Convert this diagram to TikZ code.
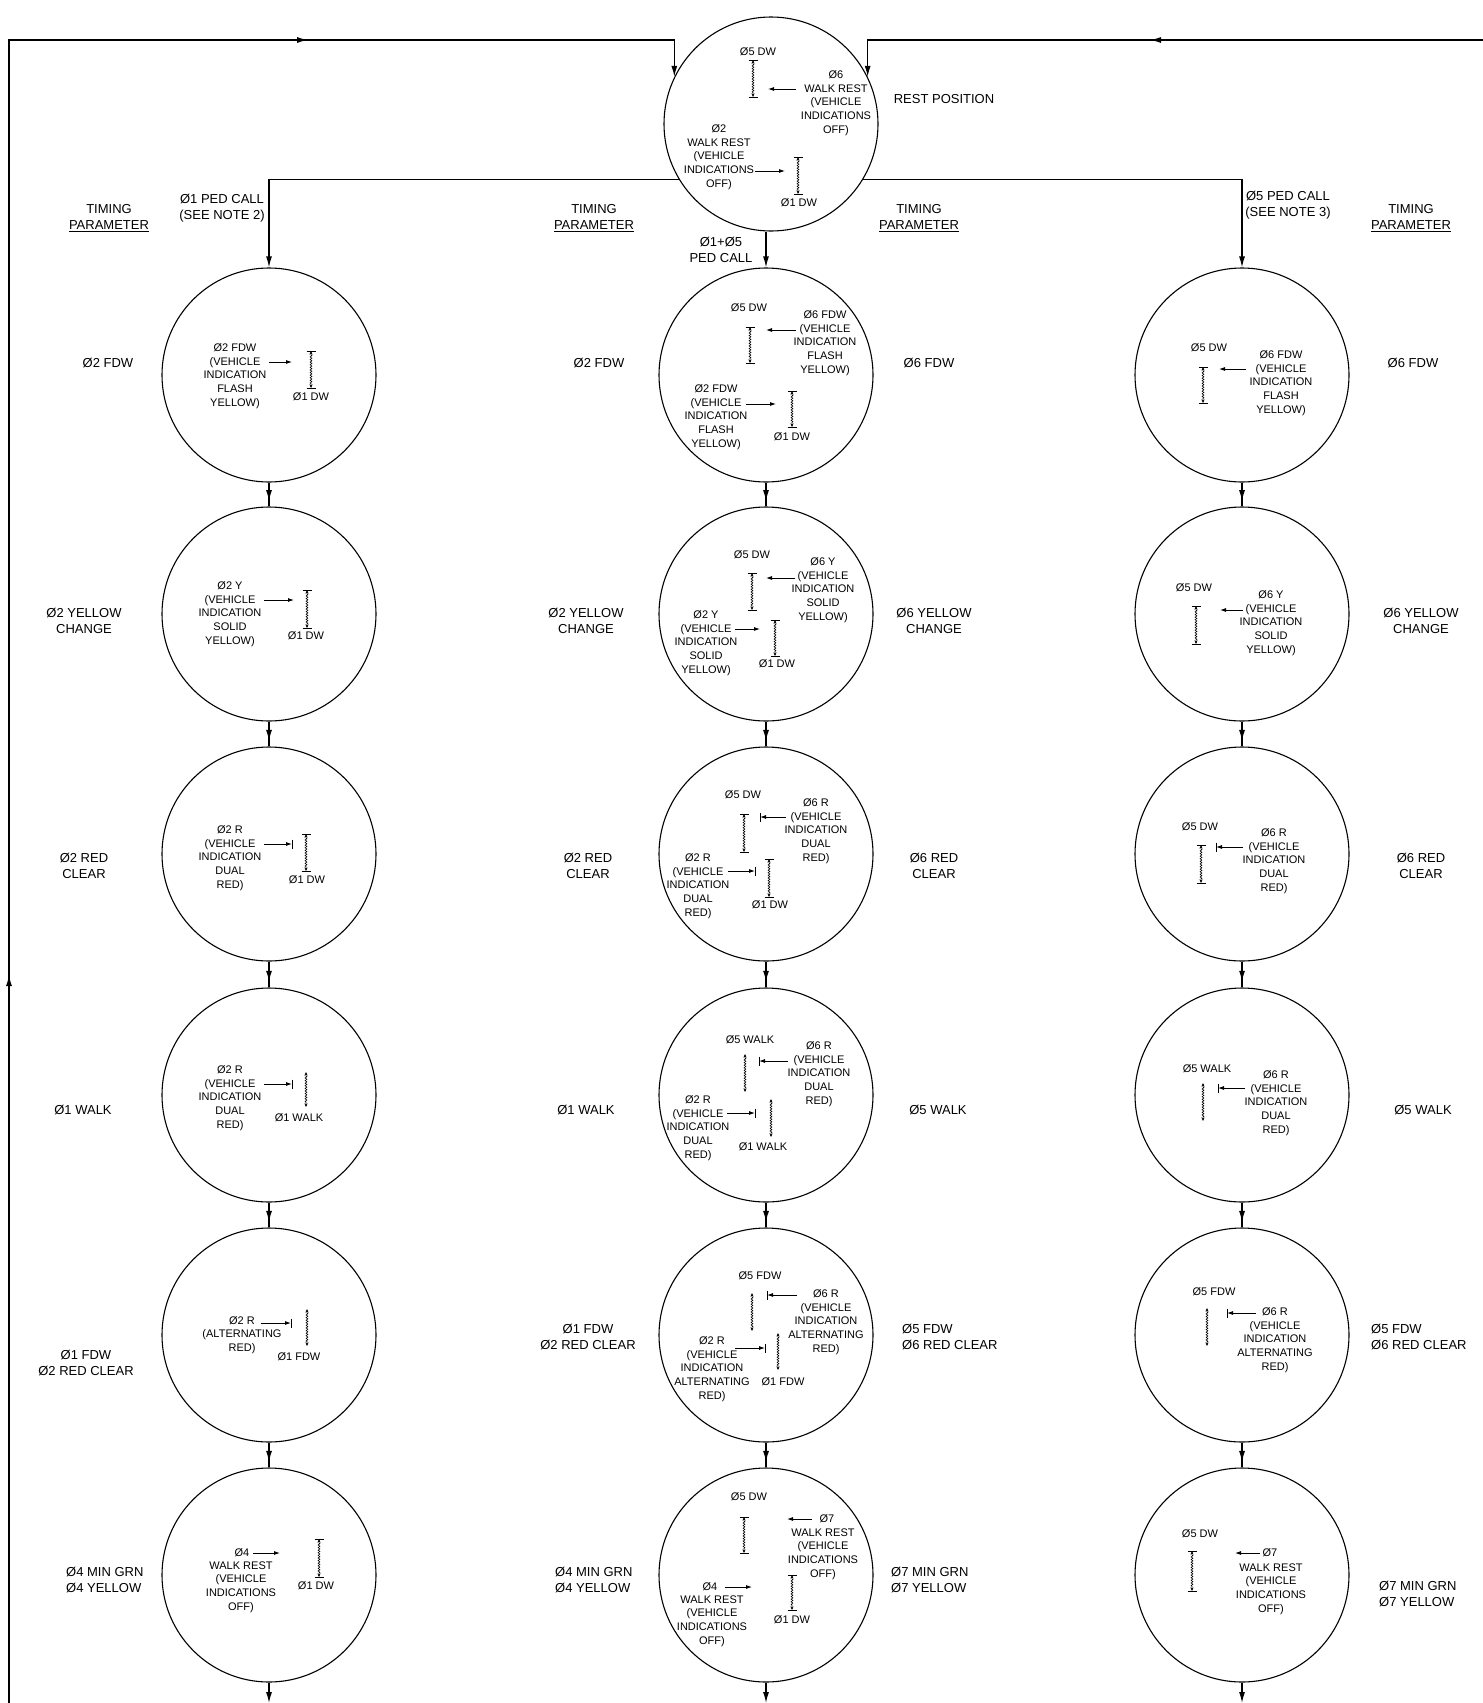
\documentclass[tikz,border=0pt]{standalone}
\usepackage{fontspec}
\setmainfont{Liberation Sans}
\usetikzlibrary{arrows.meta,decorations.markings,decorations.pathmorphing}
\newcommand{\pedDW}[3]{\draw[pedl] (#1,#2) -- (#1,#3); \draw[pbar] ({#1-4.5},#2) -- ({#1+4.5},#2) ({#1-4.5},#3) -- ({#1+4.5},#3);}
\newcommand{\pedWK}[3]{\draw[pedl] (#1,#2) -- (#1,#3);}
\newcommand{\vehA}[3]{\draw[varrow] (#1,#3) -- (#2,#3);}
\newcommand{\vehB}[3]{\draw[varrow] (#1,#3) -- (#2,#3); \draw[pbar] (#2,{#3-4.5}) -- (#2,{#3+4.5});}
\begin{document}
\begin{tikzpicture}[x=1pt,y=-1pt,
  circ/.style={draw,circle,minimum size=214pt,inner sep=0pt,line width=1.1pt},
  itx/.style={font=\fontsize{11}{13.8}\selectfont,align=center,inner sep=0pt},
  lab/.style={font=\fontsize{13}{16}\selectfont,align=center,inner sep=0pt},
  labl/.style={font=\fontsize{13}{16}\selectfont,align=left,anchor=west,inner sep=0pt},
  flow/.style={line width=1.3pt},
  ftip/.style={-{Latex[length=11pt,width=6pt]}},
  midmark/.style={postaction={decorate},decoration={markings,mark=at position #1 with {\arrow{Latex[length=11pt,width=6pt]}}}},
  pedl/.style={line width=0.6pt,{Stealth[length=3.5pt,width=3pt]}-{Stealth[length=3.5pt,width=3pt]},decorate,decoration={zigzag,amplitude=0.9pt,segment length=2.6pt,pre length=4pt,post length=4pt}},
  pbar/.style={line width=0.9pt},
  varrow/.style={line width=0.85pt,-{Latex[length=6pt,width=4pt]}}]
\useasboundingbox (0,0) rectangle (1483,1703);
\fill[white] (0,0) rectangle (1483,1703);

% circles
\node[circ] (T) at (771,124) {};
\node[circ] (L1) at (269,375) {};
\node[circ] (L2) at (269,614) {};
\node[circ] (L3) at (269,854) {};
\node[circ] (L4) at (269,1095) {};
\node[circ] (L5) at (269,1335) {};
\node[circ] (L6) at (269,1575) {};
\node[circ] (M1) at (766,375) {};
\node[circ] (M2) at (766,614) {};
\node[circ] (M3) at (766,854) {};
\node[circ] (M4) at (766,1095) {};
\node[circ] (M5) at (766,1335) {};
\node[circ] (M6) at (766,1575) {};
\node[circ] (R1) at (1242,375) {};
\node[circ] (R2) at (1242,614) {};
\node[circ] (R3) at (1242,854) {};
\node[circ] (R4) at (1242,1095) {};
\node[circ] (R5) at (1242,1335) {};
\node[circ] (R6) at (1242,1575) {};

% flow lines
\coordinate (BL) at (9,1703);
\coordinate (TL) at (9,40);
\coordinate (TR) at (1483,40);
\draw[flow,ftip,postaction={decorate},decoration={markings,
   mark=at position 728pt with {\arrow{Latex[length=11pt,width=6pt]}},
   mark=at position 1962pt with {\arrow{Latex[length=11pt,width=6pt]}}}]
   (BL) -- (TL) -- (T.154 |- TL) -- (T.154);
\draw[flow,ftip,midmark=333pt] (TR) -- (T.26 |- TR) -- (T.26);
\draw[flow,ftip] (T.211) -| (L1.north);
\draw[flow,ftip] (T.-31) -| (R1.north);
\draw[flow,ftip] (M1.north |- T.south) -- (M1.north);
\foreach \c in {L,M,R}{
  \foreach \i/\j in {1/2,2/3,3/4,4/5,5/6}{
    \draw[flow,midmark=0.78] (\c\i.south) -- (\c\j.north);
  }
}
\coordinate (Lb) at (269,1703);
\coordinate (Mb) at (766,1703);
\coordinate (Rb) at (1242,1703);
\draw[flow,ftip] (L6.south) -- (Lb);
\draw[flow,ftip] (M6.south) -- (Mb);
\draw[flow,ftip] (R6.south) -- (Rb);

% outer labels
\node[lab] (rest) at (944,99) {REST POSITION};
\node[lab] (tp1) at (109,218) {TIMING\\\underline{PARAMETER}};
\node[lab] (tp2) at (594,218) {TIMING\\\underline{PARAMETER}};
\node[lab] (tp3) at (919,218) {TIMING\\\underline{PARAMETER}};
\node[lab] (tp4) at (1411,218) {TIMING\\\underline{PARAMETER}};
\node[lab] (pc1) at (222,208) {Ø1 PED CALL\\(SEE NOTE 2)};
\node[lab] (pc5) at (1288,205) {Ø5 PED CALL\\(SEE NOTE 3)};
\node[lab] (pc15) at (721,250) {Ø1+Ø5\\PED CALL};

\node[lab] (l1a) at (108,363) {Ø2 FDW};
\node[lab] (l1b) at (599,363) {Ø2 FDW};
\node[lab] (l1c) at (929,363) {Ø6 FDW};
\node[lab] (l1d) at (1413,363) {Ø6 FDW};
\node[lab] (l2a) at (84,621) {Ø2 YELLOW\\CHANGE};
\node[lab] (l2b) at (586,621) {Ø2 YELLOW\\CHANGE};
\node[lab] (l2c) at (934,621) {Ø6 YELLOW\\CHANGE};
\node[lab] (l2d) at (1421,621) {Ø6 YELLOW\\CHANGE};
\node[lab] (l3a) at (84,866) {Ø2 RED\\CLEAR};
\node[lab] (l3b) at (588,866) {Ø2 RED\\CLEAR};
\node[lab] (l3c) at (934,866) {Ø6 RED\\CLEAR};
\node[lab] (l3d) at (1421,866) {Ø6 RED\\CLEAR};
\node[lab] (l4a) at (83,1110) {Ø1 WALK};
\node[lab] (l4b) at (586,1110) {Ø1 WALK};
\node[lab] (l4c) at (938,1110) {Ø5 WALK};
\node[lab] (l4d) at (1423,1110) {Ø5 WALK};
\node[lab] (l5a) at (86,1363) {Ø1 FDW\\Ø2 RED CLEAR};
\node[lab] (l5b) at (588,1337) {Ø1 FDW\\Ø2 RED CLEAR};
\node[labl] (l5c) at (902,1337) {Ø5 FDW\\Ø6 RED CLEAR};
\node[labl] (l5d) at (1371,1337) {Ø5 FDW\\Ø6 RED CLEAR};
\node[labl] (l6a) at (66,1580) {Ø4 MIN GRN\\Ø4 YELLOW};
\node[labl] (l6b) at (555,1580) {Ø4 MIN GRN\\Ø4 YELLOW};
\node[labl] (l6c) at (891,1580) {Ø7 MIN GRN\\Ø7 YELLOW};
\node[labl] (l6d) at (1379,1594) {Ø7 MIN GRN\\Ø7 YELLOW};

% ---- top circle
\begin{scope}[shift={(771,124)},name prefix=T-]
 \node[itx] (a) at (-13,-72) {Ø5 DW};
 \pedDW{-18}{-64}{-27}
 \vehA{25}{-3}{-35}
 \node[itx] (b) at (65,-21) {Ø6\\WALK REST\\(VEHICLE\\INDICATIONS\\OFF)};
 \node[itx] (c) at (-52,33) {Ø2\\WALK REST\\(VEHICLE\\INDICATIONS\\OFF)};
 \vehA{-16}{14}{47}
 \pedDW{27}{33}{70}
 \node[itx] (d) at (28,79) {Ø1 DW};
\end{scope}

% ---- row 1
\begin{scope}[shift={(269,375)},name prefix=L1-]
 \node[itx] (a) at (-34,1) {Ø2 FDW\\(VEHICLE\\INDICATION\\FLASH\\YELLOW)};
 \vehA{0}{23}{-13}
 \pedDW{42}{-24}{13}
 \node[itx] (b) at (42,22) {Ø1 DW};
\end{scope}
\begin{scope}[shift={(766,375)},name prefix=M1-]
 \node[itx] (a) at (-17,-67) {Ø5 DW};
 \pedDW{-16}{-48}{-12}
 \vehA{30}{0}{-45}
 \node[itx] (b) at (59,-32) {Ø6 FDW\\(VEHICLE\\INDICATION\\FLASH\\YELLOW)};
 \node[itx] (c) at (-50,42) {Ø2 FDW\\(VEHICLE\\INDICATION\\FLASH\\YELLOW)};
 \vehA{-20}{10}{29}
 \pedDW{26}{16}{52}
 \node[itx] (d) at (26,62) {Ø1 DW};
\end{scope}
\begin{scope}[shift={(1242,375)},name prefix=R1-]
 \node[itx] (a) at (-33,-27) {Ø5 DW};
 \pedDW{-39}{-8}{28}
 \vehA{4}{-23}{-6}
 \node[itx] (b) at (39,8) {Ø6 FDW\\(VEHICLE\\INDICATION\\FLASH\\YELLOW)};
\end{scope}

% ---- row 2
\begin{scope}[shift={(269,614)},name prefix=L2-]
 \node[itx] (a) at (-39,0) {Ø2 Y\\(VEHICLE\\INDICATION\\SOLID\\YELLOW)};
 \vehA{-5}{25}{-14}
 \pedDW{38}{-24}{14}
 \node[itx] (b) at (37,22) {Ø1 DW};
\end{scope}
\begin{scope}[shift={(766,614)},name prefix=M2-]
 \node[itx] (a) at (-14,-59) {Ø5 DW};
 \pedDW{-14}{-41}{-4}
 \vehA{29}{0}{-36}
 \node[itx] (b) at (57,-24) {Ø6 Y\\(VEHICLE\\INDICATION\\SOLID\\YELLOW)};
 \node[itx] (c) at (-60,29) {Ø2 Y\\(VEHICLE\\INDICATION\\SOLID\\YELLOW)};
 \vehA{-31}{-6}{15}
 \pedDW{9}{6}{42}
 \node[itx] (d) at (11,50) {Ø1 DW};
\end{scope}
\begin{scope}[shift={(1242,614)},name prefix=R2-]
 \node[itx] (a) at (-48,-26) {Ø5 DW};
 \pedDW{-46}{-8}{30}
 \vehA{1}{-22}{-4}
 \node[itx] (b) at (29,9) {Ø6 Y\\(VEHICLE\\INDICATION\\SOLID\\YELLOW)};
\end{scope}

% ---- row 3
\begin{scope}[shift={(269,854)},name prefix=L3-]
 \node[itx] (a) at (-39,4) {Ø2 R\\(VEHICLE\\INDICATION\\DUAL\\RED)};
 \vehB{-5}{23}{-10}
 \pedDW{37}{-20}{17}
 \node[itx] (b) at (38,26) {Ø1 DW};
\end{scope}
\begin{scope}[shift={(766,854)},name prefix=M3-]
 \node[itx] (a) at (-23,-59) {Ø5 DW};
 \pedDW{-22}{-40}{-2}
 \vehB{20}{-6}{-37}
 \node[itx] (b) at (50,-23) {Ø6 R\\(VEHICLE\\INDICATION\\DUAL\\RED)};
 \node[itx] (c) at (-68,32) {Ø2 R\\(VEHICLE\\INDICATION\\DUAL\\RED)};
 \vehB{-38}{-11}{17}
 \pedDW{3}{5}{43}
 \node[itx] (d) at (4,51) {Ø1 DW};
\end{scope}
\begin{scope}[shift={(1242,854)},name prefix=R3-]
 \node[itx] (a) at (-42,-27) {Ø5 DW};
 \pedDW{-41}{-9}{29}
 \vehB{1}{-26}{-7}
 \node[itx] (b) at (32,7) {Ø6 R\\(VEHICLE\\INDICATION\\DUAL\\RED)};
\end{scope}

% ---- row 4
\begin{scope}[shift={(269,1095)},name prefix=L4-]
 \node[itx] (a) at (-39,3) {Ø2 R\\(VEHICLE\\INDICATION\\DUAL\\RED)};
 \vehB{-5}{23}{-11}
 \pedWK{37}{-23}{12}
 \node[itx] (b) at (30,23) {Ø1 WALK};
\end{scope}
\begin{scope}[shift={(766,1095)},name prefix=M4-]
 \node[itx] (a) at (-16,-55) {Ø5 WALK};
 \pedWK{-21}{-41}{-3}
 \vehB{22}{-7}{-34}
 \node[itx] (b) at (53,-21) {Ø6 R\\(VEHICLE\\INDICATION\\DUAL\\RED)};
 \node[itx] (c) at (-68,33) {Ø2 R\\(VEHICLE\\INDICATION\\DUAL\\RED)};
 \vehB{-39}{-11}{18}
 \pedWK{5}{4}{42}
 \node[itx] (d) at (-3,52) {Ø1 WALK};
\end{scope}
\begin{scope}[shift={(1242,1095)},name prefix=R4-]
 \node[itx] (a) at (-35,-26) {Ø5 WALK};
 \pedWK{-39}{-12}{26}
 \vehB{3}{-24}{-7}
 \node[itx] (b) at (34,8) {Ø6 R\\(VEHICLE\\INDICATION\\DUAL\\RED)};
\end{scope}

% ---- row 5
\begin{scope}[shift={(269,1335)},name prefix=L5-]
 \node[itx] (a) at (-27,0) {Ø2 R\\(ALTERNATING\\RED)};
 \vehB{-8}{22}{-12}
 \pedWK{38}{-26}{11}
 \node[itx] (b) at (30,22) {Ø1 FDW};
\end{scope}
\begin{scope}[shift={(766,1335)},name prefix=M5-]
 \node[itx] (a) at (-6,-59) {Ø5 FDW};
 \pedWK{-14}{-42}{-4}
 \vehB{31}{1}{-40}
 \node[itx] (b) at (60,-13) {Ø6 R\\(VEHICLE\\INDICATION\\ALTERNATING\\RED)};
 \node[itx] (c) at (-54,34) {Ø2 R\\(VEHICLE\\INDICATION\\ALTERNATING\\RED)};
 \vehB{-31}{-1}{13}
 \pedWK{12}{-2}{35}
 \node[itx] (d) at (17,47) {Ø1 FDW};
\end{scope}
\begin{scope}[shift={(1242,1335)},name prefix=R5-]
 \node[itx] (a) at (-28,-43) {Ø5 FDW};
 \pedWK{-35}{-27}{11}
 \vehB{14}{-15}{-22}
 \node[itx] (b) at (33,5) {Ø6 R\\(VEHICLE\\INDICATION\\ALTERNATING\\RED)};
\end{scope}

% ---- row 6
\begin{scope}[shift={(269,1575)},name prefix=L6-]
 \node[itx] (a) at (-27,-22) {Ø4};
 \vehA{-16}{11}{-22}
 \node[itx] (b) at (-28,12) {WALK REST\\(VEHICLE\\INDICATIONS\\OFF)};
 \pedDW{50}{-36}{2}
 \node[itx] (c) at (47,11) {Ø1 DW};
\end{scope}
\begin{scope}[shift={(766,1575)},name prefix=M6-]
 \node[itx] (a) at (-17,-78) {Ø5 DW};
 \pedDW{-22}{-58}{-22}
 \vehA{46}{21}{-56}
 \node[itx] (b) at (61,-56) {Ø7};
 \node[itx] (c) at (57,-21) {WALK REST\\(VEHICLE\\INDICATIONS\\OFF)};
 \node[itx] (d) at (-56,12) {Ø4};
 \vehA{-41}{-14}{12}
 \node[itx] (e) at (-54,46) {WALK REST\\(VEHICLE\\INDICATIONS\\OFF)};
 \pedDW{26}{0}{35}
 \node[itx] (f) at (26,45) {Ø1 DW};
\end{scope}
\begin{scope}[shift={(1242,1575)},name prefix=R6-]
 \node[itx] (a) at (-42,-41) {Ø5 DW};
 \pedDW{-50}{-24}{16}
 \vehA{18}{-7}{-22}
 \node[itx] (b) at (28,-22) {Ø7};
 \node[itx] (c) at (29,14) {WALK REST\\(VEHICLE\\INDICATIONS\\OFF)};
\end{scope}
\end{tikzpicture}
\end{document}
